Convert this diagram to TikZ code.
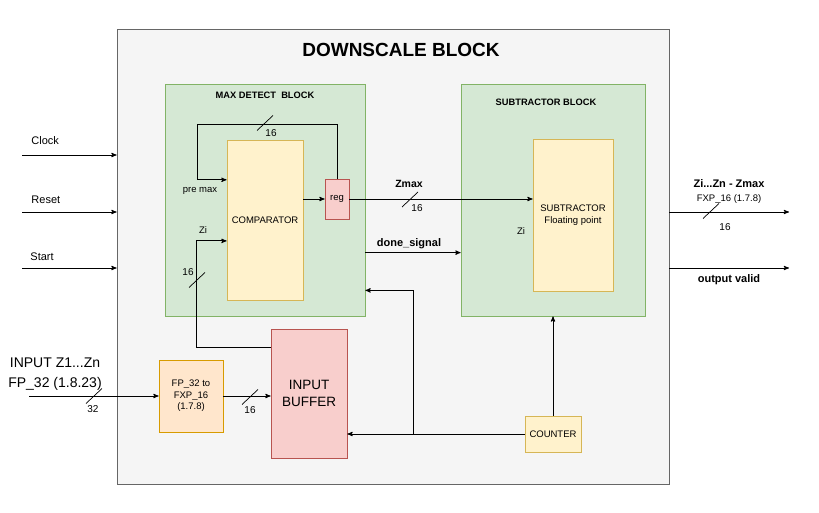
\documentclass[tikz,border=0pt]{standalone}
\usepackage{fontspec}
\setmainfont{Liberation Sans}
\usepackage{xcolor}
\usetikzlibrary{arrows}
\usetikzlibrary{calc}
\usetikzlibrary{positioning}

\definecolor{outerfill}{HTML}{F5F5F5}
\definecolor{outerline}{HTML}{666666}
\definecolor{greenfill}{HTML}{D5E8D4}
\definecolor{greenline}{HTML}{82B366}
\definecolor{yellowfill}{HTML}{FFF2CC}
\definecolor{yellowline}{HTML}{D6B656}
\definecolor{redfill}{HTML}{F8CECC}
\definecolor{redline}{HTML}{B85450}
\definecolor{orangefill}{HTML}{FFE6CC}
\definecolor{orangeline}{HTML}{D79B00}

\begin{document}
\begin{tikzpicture}[x=1pt,y=-1pt,>=stealth',line width=0.9pt,
                    busmark/.pic={\draw[line width=0.7pt] (-8,7.5) -- (8,-7.5);}]
      \tikzstyle{blk}=[draw, rectangle, inner sep=0pt, line width=0.8pt]
      \tikzstyle{outerbox}=[blk, fill=outerfill, draw=outerline]
      \tikzstyle{greenbox}=[blk, fill=greenfill, draw=greenline]
      \tikzstyle{yellowbox}=[blk, fill=yellowfill, draw=yellowline, font=\fontsize{9.5}{11.5}\selectfont, align=center]
      \tikzstyle{redbox}=[blk, fill=redfill, draw=redline, align=center]
      \tikzstyle{orangebox}=[blk, fill=orangefill, draw=orangeline, font=\fontsize{9.5}{11.5}\selectfont, align=center]
      \tikzstyle{lbl}=[inner sep=0pt, font=\fontsize{9.5}{11.5}\selectfont]
      \tikzstyle{sig}=[inner sep=0pt, font=\fontsize{11}{13}\selectfont]
      \tikzstyle{boldsig}=[inner sep=0pt, font=\bfseries\fontsize{11}{13}\selectfont]
      \tikzstyle{width}=[inner sep=0pt, font=\fontsize{10}{12}\selectfont]
      \tikzstyle{blktitle}=[inner sep=0pt, font=\bfseries\fontsize{9.3}{11}\selectfont]
      \useasboundingbox (0,0) rectangle (819,513);

      % blocks
      \node[outerbox, minimum width=552pt, minimum height=455pt] (downscale) at (393,256.5) {};
      \node[inner sep=0pt, font=\bfseries\fontsize{19}{22}\selectfont] (title) at (401,50) {DOWNSCALE BLOCK};
      \node[greenbox, minimum width=200pt, minimum height=232pt] (maxdet) at (265,200) {};
      \node[blktitle, below=7.5pt of maxdet.north] (maxtitle) {MAX DETECT\ \ BLOCK};
      \node[greenbox, minimum width=184pt, minimum height=232pt] (subblock) at (553,200) {};
      \node[blktitle] (subtitle) at (546,102) {SUBTRACTOR BLOCK};
      \node[yellowbox, minimum width=76pt, minimum height=160pt] (comparator) at (265,220) {COMPARATOR};
      \node[redbox, minimum width=24pt, minimum height=40pt, font=\fontsize{9.5}{11.5}\selectfont] (reg) at (337,199) {reg};
      \node[yellowbox, minimum width=80pt, minimum height=152pt] (subtractor) at (573,215) {SUBTRACTOR\\Floating point};
      \node[yellowbox, minimum width=56pt, minimum height=36pt] (counter) at (553,434) {COUNTER};
      \node[orangebox, minimum width=64pt, minimum height=72pt] (conv) at (191,396) {FP\_32 to\\FXP\_16\\(1.7.8)};
      \node[redbox, minimum width=76pt, minimum height=129pt, font=\fontsize{13.5}{17}\selectfont] (buffer) at (309,393.5) {INPUT\\BUFFER};

      % control inputs
      \coordinate (clkin) at (22,155);
      \coordinate (rstin) at (22,212);
      \coordinate (startin) at (22,268);
      \draw[->] (clkin) -- (clkin -| downscale.west);
      \draw[->] (rstin) -- (rstin -| downscale.west);
      \draw[->] (startin) -- (startin -| downscale.west);
      \node[sig, anchor=west] (clklbl) at (31,141) {Clock};
      \node[sig, anchor=west] (rstlbl) at (31,200) {Reset};
      \node[sig, anchor=west] (startlbl) at (30,257) {Start};

      % max detect
      \coordinate (fbl) at (197,124);
      \coordinate (premax) at ($(comparator.north west)!0.25!(comparator.south west)$);
      \coordinate (ziin) at ($(comparator.north west)!0.63!(comparator.south west)$);
      \draw[->] (reg.north) |- (fbl) |- (premax);
      \pic at (265,123) {busmark};
      \node[width] (fbw) at (271,133) {16};
      \node[lbl] (premaxlbl) at (200,191) {pre max};
      \draw[->] (comparator.east |- reg.west) -- (reg.west);
      \draw[->] ([yshift=-19pt]buffer.north west) -| ([xshift=-30pt]ziin) -- (ziin);
      \pic at (197,280) {busmark};
      \node[width] (ziw) at (188,272) {16};
      \node[lbl] (zilbl) at (203,230) {Zi};

      % towards subtractor
      \draw[->] (reg.east) -- (reg.east -| subtractor.west);
      \pic at (410,199.5) {busmark};
      \node[width] (zmaxw) at (417,208) {16};
      \node[inner sep=0pt, font=\bfseries\fontsize{10.5}{12.5}\selectfont] (zmaxlbl) at (409,184) {Zmax};
      \draw[->] ([yshift=-169pt]maxdet.north east) -- ([yshift=-169pt]subblock.north west);
      \node[boldsig] (donelbl) at (409,244) {done\_signal};
      \node[lbl] (zisub) at (521,231) {Zi};

      % counter
      \coordinate (split) at (413,434);
      \draw[->] (counter.north) -- (counter.north |- subblock.south);
      \draw[->] (counter.west) -- (counter.west -| buffer.east);
      \draw[->] (split) |- ([yshift=26pt]maxdet.south east);

      % data input
      \coordinate (zin) at (29,396);
      \draw[->] (zin) -- (conv.west);
      \pic at (94,396) {busmark};
      \node[width] (inw) at (93,409) {32};
      \node[inner sep=0pt, align=center, font=\fontsize{14}{20}\selectfont] (inlbl) at (55,374) {INPUT Z1...Zn\\FP\_32 (1.8.23)};
      \draw[->] (conv.east) -- (conv.east -| buffer.west);
      \pic at (250,397) {busmark};
      \node[width] (convw) at (250,410) {16};

      % outputs
      \coordinate (zout) at (789,212);
      \coordinate (validout) at (789,268);
      \draw[->] (downscale.east |- zout) -- (zout);
      \draw[->] (downscale.east |- validout) -- (validout);
      \pic at (711,211) {busmark};
      \node[width] (outw) at (725,227) {16};
      \node[boldsig] (zoutlbl) at (729,184) {Zi...Zn - Zmax};
      \node[lbl] (fxplbl) at (729,199) {FXP\_16 (1.7.8)};
      \node[boldsig] (validlbl) at (729,280) {output valid};
\end{tikzpicture}
\end{document}
